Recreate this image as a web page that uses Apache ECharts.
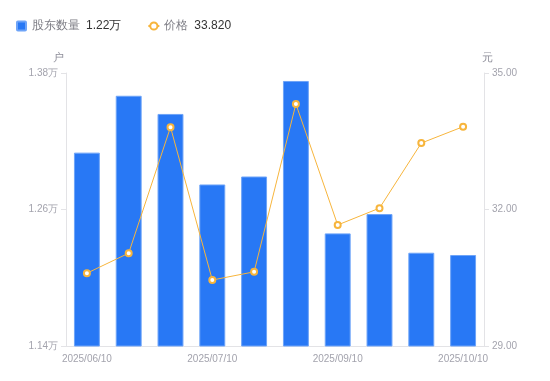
<!DOCTYPE html>
<html>
<head>
<meta charset="utf-8">
<script src="https://cdn.jsdelivr.net/npm/echarts@6/dist/echarts.min.js"></script>
<style>html,body{margin:0;padding:0;background:#fff;}#c{width:550px;height:381px;}</style>
</head>
<body>
<div id="c"></div>
<script>
var categories = ['2025/06/10','2025/06/20','2025/06/30','2025/07/10','2025/07/20','2025/08/10','2025/09/10','2025/09/20','2025/09/30','2025/10/10'];
var holders = [1.310, 1.360, 1.344, 1.282, 1.289, 1.373, 1.239, 1.256, 1.222, 1.220];
var prices = [30.60, 31.04, 33.81, 30.45, 30.63, 34.32, 31.66, 32.03, 33.46, 33.82];
var leftTicks = [1.14, 1.26, 1.38];
var rightTicks = [29, 32, 35];

var chart = echarts.init(document.getElementById('c'));
var lastH = holders[holders.length - 1].toFixed(2) + '万';
var lastP = prices[prices.length - 1].toFixed(3);
var font = 'sans-serif';
chart.setOption({
  animation: false,
  textStyle: { fontFamily: font },
  legend: {
    left: 11, top: 15,
    itemWidth: 11, itemHeight: 9, itemGap: 26,
    symbolKeepAspect: true,
    textStyle: {
      rich: {
        n: { color: '#7d7d85', fontSize: 12, fontFamily: font },
        v: { color: '#333', fontSize: 12, fontFamily: font, padding: [0, 0, 0, 6] }
      }
    },
    formatter: function (name) {
      return '{n|' + name + '}{v|' + (name === '股东数量' ? lastH : lastP) + '}';
    },
    data: [
      { name: '股东数量', icon: 'path://M1,0 L9,0 Q10,0 10,1 L10,9 Q10,10 9,10 L1,10 Q0,10 0,9 L0,1 Q0,0 1,0 Z' },
      { name: '价格', lineStyle: { width: 2 } }
    ]
  },
  grid: { left: 66, right: 66, top: 73, bottom: 35 },
  xAxis: {
    type: 'category',
    data: categories,
    axisLine: { lineStyle: { color: '#e3e3e6' } },
    axisTick: { show: false },
    axisLabel: { interval: 2, color: '#a3a3ad', fontSize: 10, margin: 8 }
  },
  yAxis: [{
    type: 'value', name: '户', min: 1.14, max: 1.38,
    nameGap: 10,
    nameTextStyle: { color: '#8d8d99', fontSize: 11, padding: [0, 16, 0, 0] },
    axisLine: { show: true, lineStyle: { color: '#e3e3e6' } },
    axisTick: { show: true, length: 5, customValues: leftTicks, lineStyle: { color: '#e3e3e6' } },
    splitLine: { show: false },
    axisLabel: {
      customValues: leftTicks, color: '#a3a3ad', fontSize: 10, margin: 8,
      formatter: function (v) { return v.toFixed(2) + '万'; }
    }
  }, {
    type: 'value', name: '元', min: 29, max: 35,
    nameGap: 10,
    nameTextStyle: { color: '#8d8d99', fontSize: 11, padding: [0, 0, 0, 6] },
    axisLine: { show: true, lineStyle: { color: '#e3e3e6' } },
    axisTick: { show: true, length: 5, customValues: rightTicks, lineStyle: { color: '#e3e3e6' } },
    splitLine: { show: false },
    axisLabel: {
      customValues: rightTicks, color: '#a3a3ad', fontSize: 10, margin: 8,
      formatter: function (v) { return v.toFixed(2); }
    }
  }],
  series: [{
    name: '股东数量', type: 'bar', data: holders, barWidth: '62%',
    itemStyle: { color: '#2878f5', borderColor: '#6ea4f8', borderWidth: 1 }
  }, {
    name: '价格', type: 'line', yAxisIndex: 1, data: prices,
    symbol: 'emptyCircle', symbolSize: 6,
    lineStyle: { color: '#f7b53c', width: 1 },
    itemStyle: { color: '#f7b53c', borderWidth: 1.5 }
  }]
});
</script>
</body>
</html>
